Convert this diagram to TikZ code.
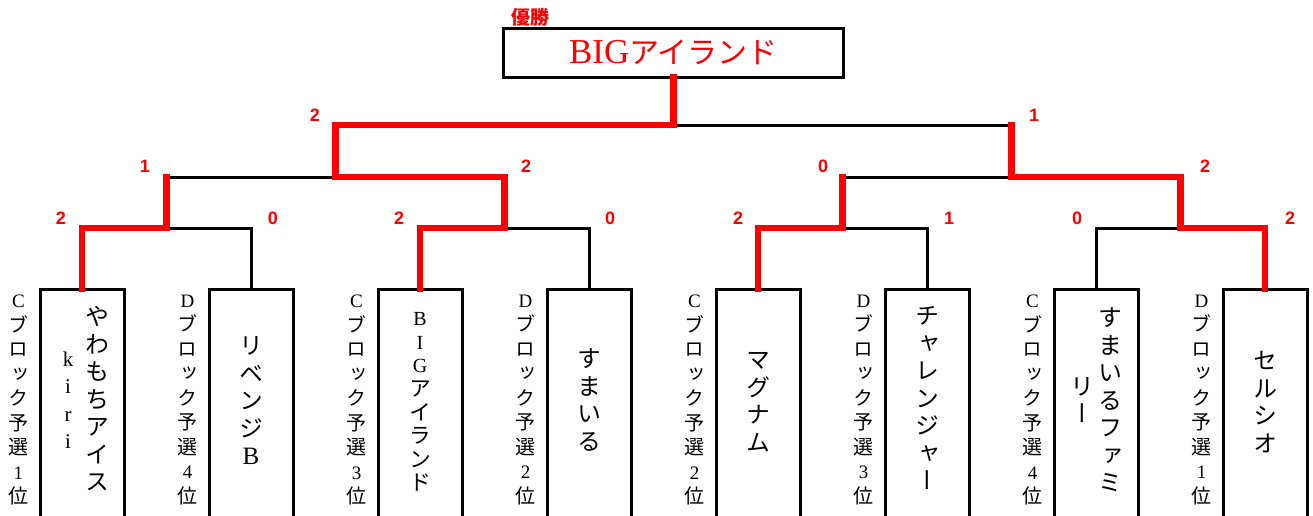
\documentclass[tikz,border=0pt]{standalone}
\usepackage{fontspec}
\setmainfont{Liberation Serif}
\setsansfont{Liberation Sans}
\newfontfamily\jp{Noto Sans CJK JP}
\newfontfamily\jpv{Noto Sans CJK JP}[RawFeature=+vert]
\newcommand\latn[2][19]{{\rmfamily\fontsize{#1}{#1}\selectfont #2}}
\tikzset{
 team/.style={draw, line width=3pt, minimum width=84pt, minimum height=260pt, anchor=north, inner sep=0pt, outer sep=0pt},
 teamtext/.style={font=\jpv\fontsize{24}{27.5}\selectfont, align=center, inner sep=0pt},
 blockl/.style={font=\jpv\fontsize{20}{24.5}\selectfont, align=center, inner sep=0pt},
 score/.style={text=red, font=\sffamily\bfseries\fontsize{18}{18}\selectfont, inner sep=0pt},
 blk/.style={line width=3pt},
 win/.style={red, line width=6.5pt, line cap=rect},
}
\begin{document}
\begin{tikzpicture}[x=1pt,y=-1pt]
\useasboundingbox (0,0) rectangle (1313,515);
\clip (0,0) rectangle (1313,515);

% champion
\node[draw, line width=3pt, minimum width=340pt, minimum height=49pt, inner sep=0pt, outer sep=0pt, text=red] (champ) at (673.5,52.5)
  {{\fontsize{35}{35}\selectfont BIG}{\jp\fontsize{30}{30}\selectfont アイランド}};
\node[text=red, font=\jp\bfseries\fontsize{19}{19}\selectfont, inner sep=0pt] (yusho) at (530,17) {優勝};

% team boxes
\node[team] (t1) at (82,289) {};
\node[team] (t2) at (251,289) {};
\node[team] (t3) at (420,289) {};
\node[team] (t4) at (589,289) {};
\node[team] (t5) at (758,289) {};
\node[team] (t6) at (927,289) {};
\node[team] (t7) at (1096,289) {};
\node[team] (t8) at (1265,289) {};

% junctions
\coordinate (m1) at (166.5,228);
\coordinate (m2) at (504.5,228);
\coordinate (m3) at (842.5,228);
\coordinate (m4) at (1180.5,228);
\coordinate (s1) at (335.5,177);
\coordinate (s2) at (1011.5,177);
\coordinate (f) at (673.5,125);

% black bracket
\draw[blk] (t1.north) |- (m1) -| (t2.north);
\draw[blk] (t3.north) |- (m2) -| (t4.north);
\draw[blk] (t5.north) |- (m3) -| (t6.north);
\draw[blk] (t7.north) |- (m4) -| (t8.north);
\draw[blk] (m1) |- (s1) -| (m2);
\draw[blk] (m3) |- (s2) -| (m4);
\draw[blk] (s1) |- (f) -| (s2);
\draw[blk] (f) -- (champ.south);

% winners
\draw[win] (t1.north) |- (m1) -- (m1 |- s1);
\draw[win] (t3.north) |- (m2) |- (s1) |- (f) -- (champ.south);
\draw[win] (t5.north) |- (m3) -- (m3 |- s2);
\draw[win] (t8.north) |- (m4) |- (s2) -- (s2 |- f);

% scores
\node[score] (sc1) at (315,115) {2};
\node[score] (sc2) at (1034,115) {1};
\node[score] (sc3) at (145,166) {1};
\node[score] (sc4) at (526,166) {2};
\node[score] (sc5) at (823,166) {0};
\node[score] (sc6) at (1205,166) {2};
\node[score] (sc7) at (61,218) {2};
\node[score] (sc8) at (273,218) {0};
\node[score] (sc9) at (399,218) {2};
\node[score] (sc10) at (610,218) {0};
\node[score] (sc11) at (738,218) {2};
\node[score] (sc12) at (949,218) {1};
\node[score] (sc13) at (1077,218) {0};
\node[score] (sc14) at (1290,218) {2};

% team names
\node[teamtext] (n1a) at (97,399) {や\\わ\\も\\ち\\ア\\イ\\ス};
\node[teamtext] (n1b) at (68,400) {\latn[21]{k}\\\latn[21]{i}\\\latn[21]{r}\\\latn[21]{i}};
\node[teamtext] (n2) at (251,401) {リ\\ベ\\ン\\ジ\\\latn[25]{B}};
\node[teamtext, font=\jpv\fontsize{22}{23.6}\selectfont] (n3) at (420,402) {\latn[20]{B}\\\latn[20]{I}\\\latn[20]{G}\\ア\\イ\\ラ\\ン\\ド};
\node[teamtext] (n4) at (589,400) {す\\ま\\い\\る};
\node[teamtext] (n5) at (758,402) {マ\\グ\\ナ\\ム};
\node[teamtext] (n6) at (927,398) {チ\\ャ\\レ\\ン\\ジ\\ャ\\ー};
\node[teamtext] (n7a) at (1110,400) {す\\ま\\い\\る\\フ\\ァ\\ミ};
\node[teamtext] (n7b) at (1082,400) {リ\\ー};
\node[teamtext] (n8) at (1265,402) {セ\\ル\\シ\\オ};

% block labels
\node[blockl] (l1) at (18.5,400) {\latn{C}\\ブ\\ロ\\ッ\\ク\\予\\選\\\latn{1}\\位};
\node[blockl] (l2) at (187.5,400) {\latn{D}\\ブ\\ロ\\ッ\\ク\\予\\選\\\latn{4}\\位};
\node[blockl] (l3) at (356.5,400) {\latn{C}\\ブ\\ロ\\ッ\\ク\\予\\選\\\latn{3}\\位};
\node[blockl] (l4) at (525.5,400) {\latn{D}\\ブ\\ロ\\ッ\\ク\\予\\選\\\latn{2}\\位};
\node[blockl] (l5) at (694.5,400) {\latn{C}\\ブ\\ロ\\ッ\\ク\\予\\選\\\latn{2}\\位};
\node[blockl] (l6) at (863.5,400) {\latn{D}\\ブ\\ロ\\ッ\\ク\\予\\選\\\latn{3}\\位};
\node[blockl] (l7) at (1032.5,400) {\latn{C}\\ブ\\ロ\\ッ\\ク\\予\\選\\\latn{4}\\位};
\node[blockl] (l8) at (1201.5,400) {\latn{D}\\ブ\\ロ\\ッ\\ク\\予\\選\\\latn{1}\\位};
\end{tikzpicture}
\end{document}
